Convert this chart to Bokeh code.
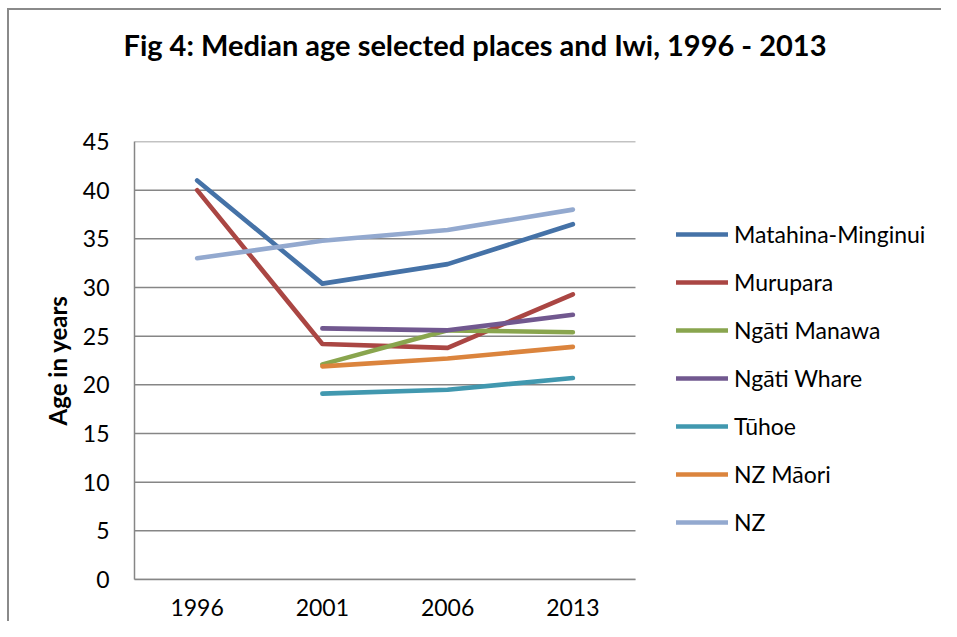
from bokeh.plotting import figure
from bokeh.models import (Range1d, FixedTicker, Legend, LegendItem, Title,
                          ColumnDataSource)
from bokeh.embed import file_html
from bokeh.resources import INLINE
import numpy as np

# ---- data ----
years = ["1996", "2001", "2006", "2013"]
series_names = ["Matahina-Minginui", "Murupara", "Ngāti Manawa", "Ngāti Whare",
                "Tūhoe", "NZ Māori", "NZ"]
matahina = [41.0, 30.4, 32.4, 36.5]
murupara = [40.0, 24.2, 23.8, 29.3]
ngati_manawa = [np.nan, 22.1, 25.6, 25.4]
ngati_whare = [np.nan, 25.8, 25.6, 27.2]
tuhoe = [np.nan, 19.1, 19.5, 20.7]
nz_maori = [np.nan, 21.9, 22.7, 23.9]
nz = [33.0, 34.8, 35.9, 38.0]
y_ticks = [0, 5, 10, 15, 20, 25, 30, 35, 40, 45]
colors = ["#4572A7", "#AA4643", "#89A54E", "#71588F", "#4198AF", "#DB843D", "#93A9CF"]

all_series = [matahina, murupara, ngati_manawa, ngati_whare, tuhoe, nz_maori, nz]

FONT = "Lato"
GRID = "#868686"

# category positions 0..n-1; plot area covers n categories, legend sits to the right
xpos = list(range(len(years)))
n = len(years)
W, H = 941, 621
LEFT, TOP, BOTTOM = 134, 141, 42
PLOT_W = 501                      # width of the category area in px
unit = PLOT_W / n
x_end = -0.5 + (W - LEFT) / unit

p = figure(width=W, height=H, output_backend="svg", toolbar_location=None,
           x_range=Range1d(-0.5, x_end), y_range=Range1d(0, 45),
           min_border_left=LEFT, min_border_right=0,
           min_border_top=TOP, min_border_bottom=BOTTOM, title=None)
# outer chart-area border (left and top edges, as in the reference crop)
p.styles = {
    "background": ("linear-gradient(#8a8a8a,#8a8a8a) 7px 8px / 2px calc(100% - 8px) no-repeat, "
                   "linear-gradient(#8a8a8a,#8a8a8a) 7px 8px / calc(100% - 7px) 2px no-repeat, "
                   "#ffffff")
}
p.outline_line_color = None
p.background_fill_color = None
p.border_fill_color = None

# titles: spacer next to the plot, main title above it
p.add_layout(Title(text=" ", text_font=FONT, text_font_size="10px", standoff=66), "above")
p.add_layout(Title(text="Fig 4: Median age selected places and Iwi, 1996 - 2013",
                   align="left", offset=-11, standoff=0,
                   text_font=FONT, text_font_size="29px", text_font_style="bold",
                   text_color="black"), "above")

# y axis
p.yaxis.ticker = FixedTicker(ticks=y_ticks)
p.yaxis.axis_line_color = GRID
p.yaxis.axis_line_width = 1.5
p.yaxis.major_tick_line_color = None
p.yaxis.major_tick_out = 0
p.yaxis.major_tick_in = 0
p.yaxis.minor_tick_line_color = None
p.yaxis.major_label_standoff = 25
p.yaxis.major_label_text_font = FONT
p.yaxis.major_label_text_font_size = "23px"
p.yaxis.major_label_text_color = "black"
p.yaxis.axis_label = "Age in years"
p.yaxis.axis_label_text_font = FONT
p.yaxis.axis_label_text_font_size = "24px"
p.yaxis.axis_label_text_font_style = "bold"
p.yaxis.axis_label_text_color = "black"
p.yaxis.axis_label_standoff = 8

# x axis (categories)
p.xaxis.ticker = FixedTicker(ticks=xpos)
p.xaxis.major_label_overrides = {i: y for i, y in zip(xpos, years)}
p.xaxis.bounds = (-0.5, n - 0.5)
p.xaxis.axis_line_color = GRID
p.xaxis.axis_line_width = 1.5
p.xaxis.major_tick_line_color = None
p.xaxis.major_tick_out = 0
p.xaxis.minor_tick_line_color = None
p.xaxis.major_label_standoff = 19
p.xaxis.major_label_text_font = FONT
p.xaxis.major_label_text_font_size = "23px"
p.xaxis.major_label_text_color = "black"

p.xgrid.grid_line_color = None
p.ygrid.grid_line_color = None

# horizontal gridlines limited to the category area
grid_src = ColumnDataSource(dict(x0=[-0.5] * len(y_ticks), x1=[n - 0.5] * len(y_ticks),
                                 y=y_ticks))
p.segment(x0="x0", x1="x1", y0="y", y1="y", source=grid_src,
          line_color=GRID, line_width=1.5, level="underlay")

items = []
for name, vals, col in zip(series_names, all_series, colors):
    src = ColumnDataSource(dict(x=xpos, y=vals))
    r = p.line("x", "y", source=src, line_color=col, line_width=4.6,
               line_cap="round", line_join="round")
    items.append(LegendItem(label=name, renderers=[r]))

legend = Legend(items=items, location=(542, 42),
                padding=0, margin=0, spacing=18,
                glyph_width=52, glyph_height=30, label_height=30,
                label_standoff=6, border_line_color=None,
                background_fill_alpha=0,
                label_text_font=FONT, label_text_font_size="23px",
                label_text_color="black")
p.add_layout(legend, "center")

open("out.html", "w").write(file_html(p, INLINE))
